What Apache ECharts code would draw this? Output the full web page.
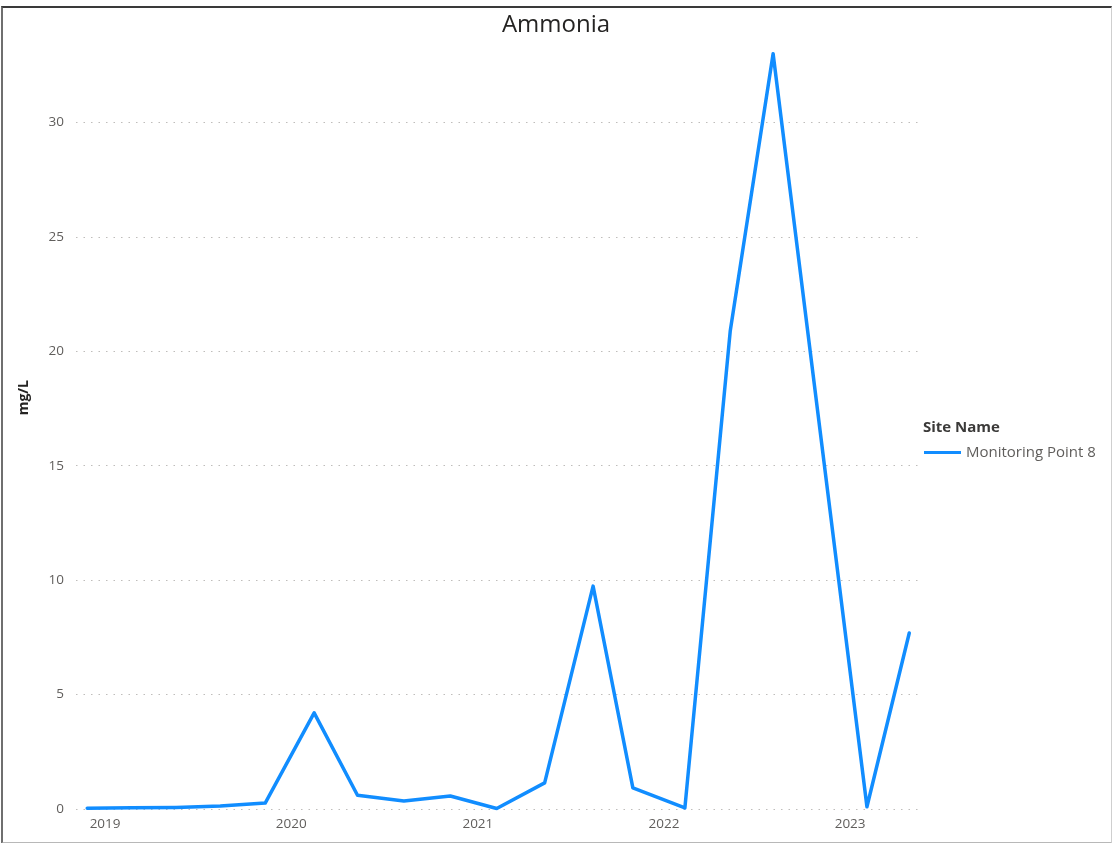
<!DOCTYPE html>
<html>
<head>
<meta charset="utf-8">
<title>Ammonia</title>
<script src="https://cdn.jsdelivr.net/npm/echarts@6/dist/echarts.min.js"></script>
<style>
  html, body { margin: 0; padding: 0; background: #ffffff; }
  #chart { position: absolute; left: 0; top: 0; width: 1112px; height: 843px; }
  #frame {
    position: absolute; left: 1px; top: 6px; width: 1108px; height: 834px;
    border-top: 2px solid #3a3a3a; border-left: 2px solid #6f6f6f;
    border-bottom: 2px solid #b8b8b8; border-right: 1px solid #cfcfcf;
    pointer-events: none;
  }
</style>
</head>
<body>
<div id="chart"></div>
<div id="frame"></div>
<script>
// Sample dates and ammonia readings (mg/L) for the monitoring point
const sampleDates = [
  '2018-11-27', '2019-02-22', '2019-05-20', '2019-08-15', '2019-11-11',
  '2020-02-15', '2020-05-10', '2020-08-09', '2020-11-08',
  '2021-02-07', '2021-05-12', '2021-08-15', '2021-11-01',
  '2022-02-11', '2022-05-11', '2022-08-03',
  '2023-02-03', '2023-04-27'
];
const ammonia = [
  0.03, 0.05, 0.07, 0.13, 0.26,
  4.2, 0.6, 0.35, 0.57,
  0.02, 1.14, 9.74, 0.92,
  0.05, 20.9, 33.0,
  0.1, 7.69
];
const seriesName = 'Monitoring Point 8';
const yTicks = [0, 5, 10, 15, 20, 25, 30];
const yearTicks = ['2019-01-01', '2020-01-01', '2021-01-01', '2022-01-01', '2023-01-01'];
const dateRange = ['2018-11-05', '2023-05-20'];

const fontFamily = '"Open Sans", "Noto Sans", sans-serif';
const toStamp = d => Date.parse(d + 'T00:00:00Z');
const yearStamps = yearTicks.map(toStamp);

const chart = echarts.init(document.getElementById('chart'), null, { renderer: 'canvas' });

chart.setOption({
  animation: false,
  backgroundColor: '#ffffff',
  textStyle: { fontFamily: fontFamily },
  title: [
    {
      text: 'Ammonia',
      left: 'center',
      top: 8,
      textStyle: { fontFamily: fontFamily, fontSize: 24, fontWeight: 'normal', color: '#252423' }
    },
    {
      text: 'Site Name',
      left: 918,
      top: 415,
      textStyle: { fontFamily: fontFamily, fontSize: 15, fontWeight: 'bold', color: '#3b3a39' }
    }
  ],
  legend: {
    data: [seriesName],
    left: 924,
    top: 445,
    padding: 0,
    icon: 'rect',
    itemWidth: 37,
    itemHeight: 3,
    itemGap: 10,
    textStyle: { fontFamily: fontFamily, fontSize: 15, color: '#605E5C' }
  },
  graphic: [
    {
      type: 'text',
      left: 17,
      top: 380,
      rotation: Math.PI / 2,
      style: {
        text: 'mg/L',
        font: 'bold 14px ' + fontFamily,
        fill: '#252423'
      }
    }
  ],
  grid: { left: 76, right: 191, top: 40, bottom: 34, containLabel: false },
  xAxis: {
    type: 'value',
    min: toStamp(dateRange[0]),
    max: toStamp(dateRange[1]),
    axisLine: { show: false },
    axisTick: { show: false, customValues: yearStamps },
    splitLine: { show: false },
    axisLabel: {
      customValues: yearStamps,
      formatter: v => String(new Date(v).getUTCFullYear()),
      color: '#605E5C',
      fontSize: 13.5,
      fontFamily: fontFamily,
      margin: 8
    }
  },
  yAxis: {
    type: 'value',
    min: 0,
    max: 33.6,
    axisLine: { show: false },
    axisTick: { show: false, customValues: yTicks },
    axisLabel: {
      customValues: yTicks,
      color: '#605E5C',
      fontSize: 13.5,
      fontFamily: fontFamily,
      margin: 12
    },
    splitLine: {
      show: true,
      lineStyle: { color: '#bfbdbb', width: 1, type: [1.5, 6] }
    }
  },
  series: [
    {
      name: seriesName,
      type: 'line',
      data: sampleDates.map((d, i) => [toStamp(d), ammonia[i]]),
      showSymbol: false,
      symbol: 'none',
      color: '#118DFF',
      lineStyle: { width: 3.5, color: '#118DFF', cap: 'round', join: 'round' }
    }
  ]
});
</script>
</body>
</html>
